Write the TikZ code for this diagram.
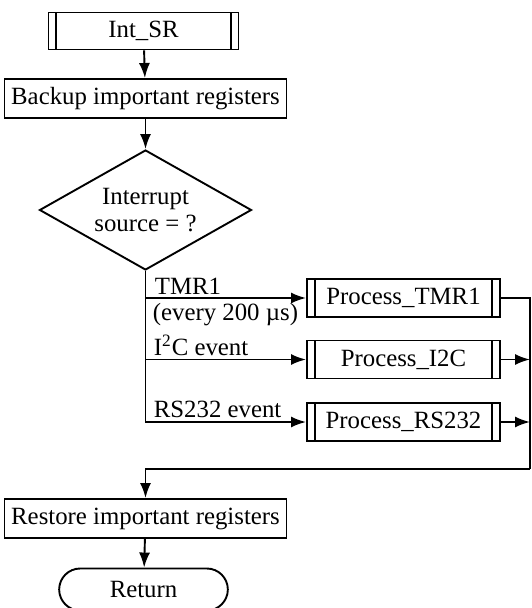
\documentclass[tikz,border=0pt]{standalone}
\usepackage{fontspec}
\setmainfont{Liberation Serif}
\usetikzlibrary{arrows.meta}
\usetikzlibrary{positioning}
\usetikzlibrary{shapes.geometric,shapes.misc}

\tikzset{
  base/.style={draw,line width=0.95pt,font=\fontsize{12.4}{13.5}\selectfont},
  box/.style={base,rectangle,minimum width=137.5pt,minimum height=19.5pt},
  subproc/.style={base,rectangle,minimum width=96.5pt,minimum height=19pt,
    path picture={
      \draw[line width=0.95pt] ([xshift=3.8pt]path picture bounding box.north west) -- ([xshift=3.8pt]path picture bounding box.south west);
      \draw[line width=0.95pt] ([xshift=-3.8pt]path picture bounding box.north east) -- ([xshift=-3.8pt]path picture bounding box.south east);}},
  decision/.style={base,diamond,aspect=1.77,inner sep=0pt,align=center,
    minimum width=106pt,minimum height=60pt},
  terminal/.style={base,rounded rectangle,minimum width=91pt,minimum height=21pt},
  lbl/.style={font=\fontsize{12.4}{13.5}\selectfont,inner sep=0pt},
  arr/.style={line width=0.95pt,-{Latex[length=7.5pt,width=5.5pt]}},
  wire/.style={line width=0.95pt}
}

\begin{document}
\begin{tikzpicture}[x=0.5pt,y=-0.5pt]
\useasboundingbox (0,0) rectangle (531,608);

    % Place nodes
    \node [subproc,minimum width=95pt,minimum height=18.5pt] (intsr) at (143.5,31) {Int\_SR};
    \node [box] (backup) at (145.5,98.5) {Backup important registers};
    \node [decision] (src) at (145.5,210) {Interrupt\\source = ?};
    \node [subproc] (tmr) at (403.5,298) {Process\_TMR1};
    \node [subproc] (iic) at (403.5,359.5) {Process\_I2C};
    \node [subproc] (rs) at (403.5,422) {Process\_RS232};
    \node [box] (restore) at (145.5,518.5) {Restore important registers};
    \node [terminal] (ret) at (143.5,589.5) {Return};
    \coordinate (join) at (530,469);

    % Main flow
    \draw [arr] (intsr) -- (backup);
    \draw [arr] (backup) -- (src);

    % Branches off the decision
    \draw [arr] (src.south) |- (rs.west);
    \draw [arr] (src.south |- tmr.west) -- (tmr.west);
    \draw [arr] (src.south |- iic.west) -- (iic.west);

    \node [lbl,anchor=base west] at ([shift={(4.5pt,2pt)}]src.south |- tmr.west) {TMR1};
    \node [lbl,anchor=base west] at ([shift={(3.5pt,-11.5pt)}]src.south |- tmr.west) {(every 200 µs)};
    \node [lbl,anchor=base west] at ([shift={(4pt,2pt)}]src.south |- iic.west) {I\textsuperscript{2}C event};
    \node [lbl,anchor=base west] at ([shift={(4pt,2.5pt)}]src.south |- rs.west) {RS232 event};

    % Collect the branches again
    \draw [wire] (tmr.east) -| (join);
    \draw [arr] (iic.east) -- (iic.east -| join);
    \draw [arr] (rs.east) -- (rs.east -| join);
    \draw [arr] (join) -| (restore.north);
    \draw [arr] (restore) -- (ret);
\end{tikzpicture}
\end{document}
